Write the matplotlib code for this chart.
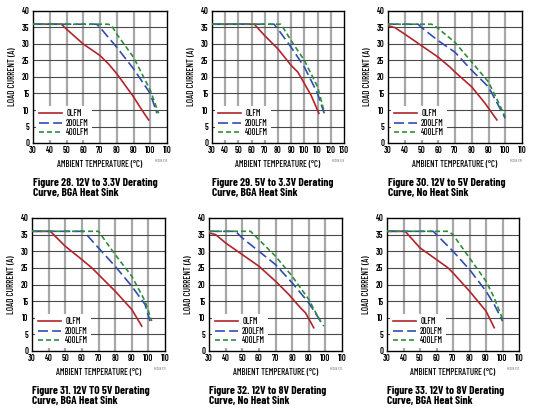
import matplotlib
matplotlib.use('Agg')
import matplotlib.pyplot as plt

plt.rcParams['font.family'] = ['Barlow Condensed', 'DejaVu Sans']

W, H = 535, 412

# curve data: (temperature degC, load current A)
fig28_0lfm_t = [30, 47, 50, 60, 70, 75, 80, 85, 90, 95, 99]
fig28_0lfm_i = [36, 36, 34.5, 30, 26.5, 24, 21, 17.5, 14, 10, 7]
fig28_200_t = [30, 68, 70, 80, 90, 100, 104]
fig28_200_i = [36, 36, 35, 29, 22.5, 15, 9]
fig28_400_t = [30, 75, 77, 80, 90, 100, 105]
fig28_400_i = [36, 36, 35.5, 33, 26, 16, 9]

fig29_0lfm_t = [30, 62, 70, 80, 90, 95, 100, 105, 111]
fig29_0lfm_i = [36, 36, 32.5, 28.5, 23.5, 21.5, 18, 14.5, 9]
fig29_200_t = [30, 77, 80, 90, 100, 110, 115]
fig29_200_i = [36, 36, 34.5, 29, 23, 15, 9]
fig29_400_t = [30, 82, 83, 90, 100, 110, 115]
fig29_400_i = [36, 36, 35.5, 31, 25, 17, 9.5]

fig30_0lfm_t = [30, 34, 40, 50, 60, 67, 70, 80, 88, 95]
fig30_0lfm_i = [35.5, 35, 33, 29.5, 26, 23, 21.5, 17, 12, 7]
fig30_200_t = [30, 48, 50, 60, 70, 80, 90, 100]
fig30_200_i = [36, 36, 35, 31, 27.5, 22, 17, 7.5]
fig30_400_t = [30, 56, 58, 70, 80, 90, 100]
fig30_400_i = [36, 36, 35.5, 30.5, 24.5, 18.5, 8]

fig31_0lfm_t = [30, 41, 50, 60, 66, 70, 80, 90, 96]
fig31_0lfm_i = [36, 36, 31.5, 27.5, 25, 23, 18, 12.5, 7.5]
fig31_200_t = [30, 61, 70, 80, 90, 98, 101]
fig31_200_i = [36, 36, 31, 25.5, 19.5, 14, 9]
fig31_400_t = [30, 70, 80, 90, 98, 102]
fig31_400_i = [36, 36, 29, 22.5, 15, 9]

fig32_0lfm_t = [30, 34, 40, 50, 60, 70, 78, 85, 88, 93]
fig32_0lfm_i = [35.5, 35, 32.5, 29, 25.5, 21, 17, 13, 11.5, 7]
fig32_200_t = [30, 46, 50, 60, 70, 80, 90, 99]
fig32_200_i = [36, 36, 34, 30, 26, 20.5, 14.5, 7.5]
fig32_400_t = [30, 55, 58, 70, 80, 90, 98]
fig32_400_i = [36, 36, 34.5, 28.5, 22.5, 15.5, 8]

fig33_0lfm_t = [30, 41, 50, 60, 67, 70, 80, 90, 95]
fig33_0lfm_i = [36, 36, 31, 27.5, 25, 23.5, 18, 12, 7]
fig33_200_t = [30, 58, 60, 70, 80, 90, 95, 100]
fig33_200_i = [36, 36, 35, 30, 24.5, 18, 14, 9]
fig33_400_t = [30, 67, 70, 80, 90, 95, 100.5]
fig33_400_i = [36, 36, 35, 28, 21, 16, 9]

captions = [
    'Figure 28. 12V to 3.3V Derating\nCurve, BGA Heat Sink',
    'Figure 29. 5V to 3.3V Derating\nCurve, BGA Heat Sink',
    'Figure 30. 12V to 5V Derating\nCurve, No Heat Sink',
    'Figure 31. 12V TO 5V Derating\nCurve, BGA Heat Sink',
    'Figure 32. 12V to 8V Derating\nCurve, No Heat Sink',
    'Figure 33. 12V to 8V Derating\nCurve, BGA Heat Sink',
]
codes = ['8638A F28', '8638A F29', '8638A F30', '8638A F31', '8638A F32', '8638A F33']
x_max = [110, 130, 110, 110, 110, 110]

curves = [
    ((fig28_0lfm_t, fig28_0lfm_i), (fig28_200_t, fig28_200_i), (fig28_400_t, fig28_400_i)),
    ((fig29_0lfm_t, fig29_0lfm_i), (fig29_200_t, fig29_200_i), (fig29_400_t, fig29_400_i)),
    ((fig30_0lfm_t, fig30_0lfm_i), (fig30_200_t, fig30_200_i), (fig30_400_t, fig30_400_i)),
    ((fig31_0lfm_t, fig31_0lfm_i), (fig31_200_t, fig31_200_i), (fig31_400_t, fig31_400_i)),
    ((fig32_0lfm_t, fig32_0lfm_i), (fig32_200_t, fig32_200_i), (fig32_400_t, fig32_400_i)),
    ((fig33_0lfm_t, fig33_0lfm_i), (fig33_200_t, fig33_200_i), (fig33_400_t, fig33_400_i)),
]

# axes boxes in pixels: left, right, top, bottom
boxes = [
    (33, 167, 11, 143), (212, 344, 11, 143), (388, 522, 11, 143),
    (32, 165, 218, 351), (209, 342, 218, 351), (387, 519, 218, 351),
]

styles = [
    ('0LFM', '#b3242a', '-'),
    ('200LFM', '#2f4fb0', (0, (6, 2.5))),
    ('400LFM', '#2f8c3c', (0, (3, 1.8))),
]

fig = plt.figure(figsize=(W / 100, H / 100), dpi=100)

for k in range(6):
    l, r, t, b = boxes[k]
    ax = fig.add_axes([l / W, 1 - b / H, (r - l) / W, (b - t) / H])
    xm = x_max[k]
    ax.set_xlim(30, xm)
    ax.set_ylim(0, 40)
    ax.set_xticks(range(30, xm + 1, 10))
    ax.set_yticks(range(0, 41, 5))
    ax.tick_params(length=0, labelsize=6.2, pad=2.5)
    for lab in ax.get_xticklabels() + ax.get_yticklabels():
        lab.set_fontweight(600)
    for x in range(40, xm, 10):
        ax.axvline(x, color='#a8a8a8', lw=1.6, zorder=0)
    for y in range(5, 40, 5):
        ax.axhline(y, color='#4a4a4a', lw=0.8, zorder=0)
    for s in ax.spines.values():
        s.set_linewidth(1.0)
    for (t_, i_), (name, col, ls) in zip(curves[k], styles):
        ax.plot(t_, i_, color=col, ls=ls, lw=1.2, label=name, zorder=3)
    leg = ax.legend(loc='lower left', prop={'size': 6.2, 'weight': 500},
                    frameon=True, fancybox=False, edgecolor='none',
                    framealpha=1, handlelength=2.7, borderpad=0.35,
                    labelspacing=0.1, handletextpad=0.5, borderaxespad=0.3)
    leg.get_frame().set_linewidth(0)
    ax.set_xlabel('AMBIENT TEMPERATURE (°C)', fontsize=6.4, labelpad=3,
                  fontweight=500)
    ax.set_ylabel('LOAD CURRENT (A)', fontsize=6.6, labelpad=3, fontweight=500)
    ax.text(1.0, -0.135, codes[k], transform=ax.transAxes, fontsize=2.5,
            color='#666666', ha='right', va='center')
    fig.text(l / W, 1 - (b + 35) / H, captions[k], fontsize=8.2,
             fontweight='bold', ha='left', va='top', linespacing=1.05)

fig.savefig('out.png', dpi=100)
